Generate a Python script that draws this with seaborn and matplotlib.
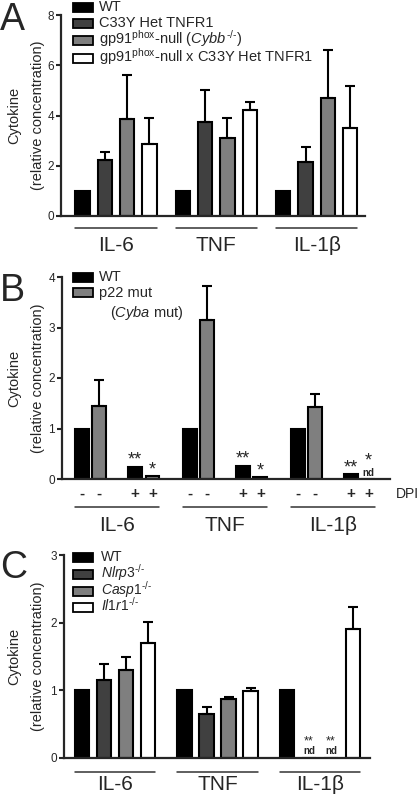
import numpy as np
import pandas as pd
import matplotlib
matplotlib.use('Agg')
from matplotlib import pyplot as plt
from matplotlib.patches import Rectangle
import matplotlib.transforms as mtransforms
import seaborn as sns

sns.set_style('ticks')
plt.rcParams['font.family'] = ['Liberation Sans', 'DejaVu Sans']
plt.rcParams['mathtext.fontset'] = 'custom'
plt.rcParams['mathtext.rm'] = 'Liberation Sans'
plt.rcParams['mathtext.it'] = 'Liberation Sans:italic'
plt.rcParams['mathtext.bf'] = 'Liberation Sans:bold'

cytokines = ['IL-6', 'TNF', 'IL-1β']

# panel A
a_genotypes = ['WT', 'C33Y Het TNFR1',
               r'gp91$^{\text{phox}}$-null ($\mathit{Cybb}^{\text{-/-}}$)',
               r'gp91$^{\text{phox}}$-null x C33Y Het TNFR1']
a_colors = ['#000000', '#404040', '#7f7f7f', '#ffffff']
a_values = [[1.0, 2.23, 3.87, 2.87],
            [1.0, 3.73, 3.11, 4.23],
            [1.0, 2.13, 4.71, 3.49]]
a_sem = [[0, 0.33, 1.73, 1.04],
         [0, 1.30, 0.80, 0.30],
         [0, 0.60, 1.89, 1.67]]

# panel B
b_genotypes = ['WT', 'p22 mut', 'WT', 'p22 mut']
b_dpi = ['-', '-', '+', '+']
b_colors = {'WT': '#000000', 'p22 mut': '#7f7f7f'}
b_values = [[1.0, 1.45, 0.245, 0.06],
            [1.0, 3.14, 0.265, 0.046],
            [1.0, 1.435, 0.09, 0.0]]
b_sem = [[0, 0.52, 0, 0],
         [0, 0.69, 0, 0],
         [0, 0.25, 0, 0]]
b_stars = [(0, 2, '**'), (0, 3, '*'), (1, 2, '**'), (1, 3, '*'),
           (2, 2, '**'), (2, 3, '*')]
b_nd = [(2, 3)]

# panel C
c_genotypes = ['WT', r'$\mathit{Nlrp3}^{\text{-/-}}$',
               r'$\mathit{Casp1}^{\text{-/-}}$', r'$\mathit{Il1r1}^{\text{-/-}}$']
c_colors = ['#000000', '#404040', '#7f7f7f', '#ffffff']
c_values = [[1.0, 1.15, 1.30, 1.70],
            [1.0, 0.65, 0.875, 0.99],
            [1.0, 0.0, 0.0, 1.91]]
c_sem = [[0, 0.24, 0.20, 0.31],
         [0, 0.105, 0.03, 0.05],
         [0, 0, 0, 0.32]]
c_nd = [(2, 1), (2, 2)]

W, H = 420, 800
fig = plt.figure(figsize=(W / 100, H / 100), dpi=100)


def px_axes(left, top, right, bottom):
    return fig.add_axes([left / W, 1 - bottom / H, (right - left) / W, (bottom - top) / H])


def make_df(values, sem, hues, slots, step):
    rows = []
    for g, cyt in enumerate(cytokines):
        for i, h in enumerate(hues):
            rows.append({'pos': step * g + slots[i], 'value': values[g][i],
                         'sem': sem[g][i], 'genotype': h, 'cytokine': cyt})
    return pd.DataFrame(rows)


def draw_panel(ax, df, palette, width, ylim, yticks, xlim, ul_y, lab_y, left_px):
    sns.barplot(data=df, x='pos', y='value', hue='genotype', palette=palette,
                native_scale=True, dodge=False, orient='x', width=width,
                errorbar=None, edgecolor='black', linewidth=1.5, legend=False,
                ax=ax)
    e = df[df['sem'] > 0]
    ax.errorbar(e['pos'], e['value'], yerr=[np.zeros(len(e)), e['sem']],
                fmt='none', ecolor='black', elinewidth=1.5, capsize=3.5,
                capthick=1.5, zorder=3)
    ax.set_xlim(*xlim)
    ax.set_ylim(*ylim)
    ax.set_yticks(yticks)
    ax.set_xticks([])
    ax.set_xlabel('')
    ax.set_ylabel('Cytokine\n(relative concentration)', fontsize=10.5, linespacing=1.85)
    bbox = ax.get_position()
    ax.yaxis.set_label_coords((45 - left_px) / (bbox.width * W), 0.5)
    ax.tick_params(axis='y', length=3.6, width=1.5, pad=1.5, labelsize=8.5)
    sns.despine(ax=ax)
    for s in ['left', 'bottom']:
        ax.spines[s].set_linewidth(1.6)
    trans = mtransforms.blended_transform_factory(ax.transData, ax.transAxes)
    for cyt in cytokines:
        p = df.loc[df['cytokine'] == cyt, 'pos']
        ax.plot([p.min() - width / 2, p.max() + width / 2], [ul_y, ul_y],
                color='#333333', lw=1.1, transform=trans, clip_on=False)
        ax.text((p.min() + p.max()) / 2, lab_y, cyt, transform=trans,
                ha='center', va='center', fontsize=15)


def legend_rows(labels, colors, y_centers, x_patch=73, text_x=99, size=10.5):
    for lab, col, y in zip(labels, colors, y_centers):
        fig.add_artist(Rectangle((x_patch / W, 1 - (y + 4.5) / H), 20 / W, 9 / H,
                                 transform=fig.transFigure, facecolor=col,
                                 edgecolor='black', lw=1.3))
        fig.text(text_x / W, 1 - (y + 4) / H, lab, fontsize=size, va='baseline')


# ---- A ----
axA = px_axes(61, 15, 365, 216)
dfA = make_df(a_values, a_sem, a_genotypes, [0, 1, 2, 3], 4.5)
draw_panel(axA, dfA, dict(zip(a_genotypes, a_colors)), 0.64, (0, 8), [0, 2, 4, 6, 8],
           ((61 - 82.5) / 22.3, (365 - 82.5) / 22.3), -0.06, -0.145, 61)
legend_rows(a_genotypes, a_colors, [7, 23, 40, 58])

# ---- B ----
axB = px_axes(62, 277, 390, 479)
dfB = make_df(b_values, b_sem, b_genotypes, [0, 1, 3, 4], 6.1)
draw_panel(axB, dfB, b_colors, 0.79, (0, 4), [0, 1, 2, 3, 4],
           ((62 - 81.7) / 17.7, (390 - 81.7) / 17.7), -0.139, -0.228, 62)
legend_rows(['WT', 'p22 mut'], [b_colors['WT'], b_colors['p22 mut']], [277, 293])
fig.text(110 / W, 1 - 317 / H, r'($\mathit{Cyba}$ mut)', fontsize=10.5, va='baseline')
transB = mtransforms.blended_transform_factory(axB.transData, axB.transAxes)
for p, sign in zip(dfB['pos'], b_dpi * 3):
    axB.text(p, -0.074, sign, transform=transB, ha='center', va='center',
             fontsize=11, fontweight='bold')
axB.text(1.018, -0.074, 'DPI', transform=axB.transAxes, ha='left', va='center', fontsize=10)
for g, i, mark in b_stars:
    row = dfB.iloc[g * 4 + i]
    off = 10 if (g, i) in b_nd else 1.2
    axB.annotate(mark, (row['pos'], row['value']), xytext=(0, off),
                 textcoords='offset points', ha='center', va='baseline', fontsize=13)
for g, i in b_nd:
    row = dfB.iloc[g * 4 + i]
    axB.annotate('nd', (row['pos'], row['value']), xytext=(0, 2),
                 textcoords='offset points', ha='center', va='baseline',
                 fontsize=7, fontweight='bold')

# ---- C ----
axC = px_axes(64, 555, 370, 758)
dfC = make_df(c_values, c_sem, c_genotypes, [0, 1, 2, 3], 4.65)
draw_panel(axC, dfC, dict(zip(c_genotypes, c_colors)), 0.65, (0, 3), [0, 1, 2, 3],
           ((64 - 82.3) / 22, (370 - 82.3) / 22), -0.069, -0.133, 64)
legend_rows(c_genotypes, c_colors, [557, 574, 591, 607], text_x=101, size=10)
for g, i in c_nd:
    row = dfC.iloc[g * 4 + i]
    axC.annotate('**', (row['pos'], row['value']), xytext=(0, 9.5),
                 textcoords='offset points', ha='center', va='baseline', fontsize=9)
    axC.annotate('nd', (row['pos'], row['value']), xytext=(0, 2.6),
                 textcoords='offset points', ha='center', va='baseline',
                 fontsize=7, fontweight='bold')

for letter, y in [('A', 2), ('B', 273), ('C', 550)]:
    fig.text(0, 1 - y / H, letter, fontsize=27, ha='left', va='top')

fig.savefig('out.png', dpi=100)
